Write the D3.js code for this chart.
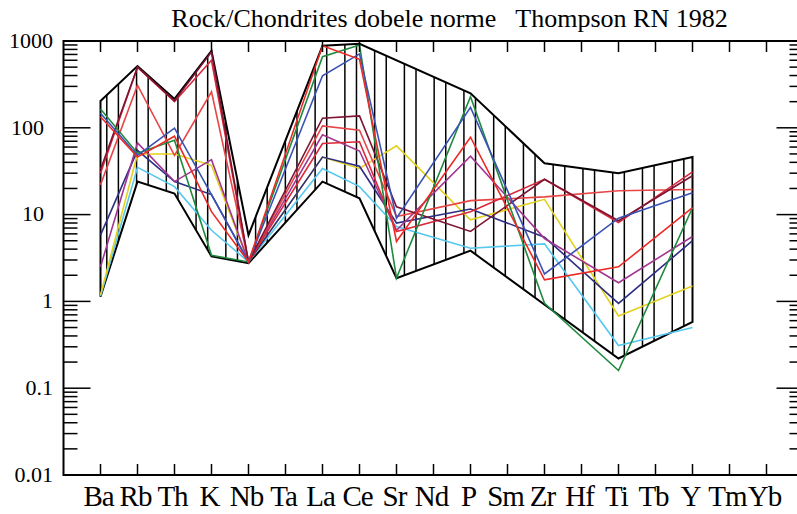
<!DOCTYPE html>
<html>
<head>
<meta charset="utf-8">
<script src="https://cdn.jsdelivr.net/npm/d3@7"></script>
<style>
  body { margin: 0; background: #fff; }
  svg text { font-family: "Liberation Serif", "DejaVu Serif", serif; fill: #000; }
</style>
</head>
<body>
<div id="chart"></div>
<script>
const elements = ['Ba', 'Rb', 'Th', 'K', 'Nb', 'Ta', 'La', 'Ce', 'Sr', 'Nd', 'P', 'Sm', 'Zr', 'Hf', 'Ti', 'Tb', 'Y', 'Tm', 'Yb'];
const yTicks = [0.01, 0.1, 1, 10, 100, 1000];
const yTickLabels = ['0.01', '0.1', '1', '10', '100', '1000'];

// elements measured in each sample (Ta, Nd, Sm, Hf, Tb, Tm, Yb are skipped)
const measured = ['Ba', 'Rb', 'Th', 'K', 'Nb', 'La', 'Ce', 'Sr', 'P', 'Zr', 'Ti', 'Y'];

const greenSample  = [165, 51, 72, 3.4, 2.85, 660, 900, 1.86, 228, 0.95, 0.16, 12];
const blueSample   = [147, 48, 99, 17, 2.85, 397, 710, 9.1, 172, 2.07, 9.1, 17.9];
const redSample1   = [134, 46, 80, 10.8, 2.85, 880, 615, 4.9, 78, 1.77, 2.5, 12];
const redSample2   = [22, 310, 48, 260, 2.85, 105, 94, 9.5, 14.5, 16, 18.8, 19.5];
const redSample3   = [30, 500, 200, 600, 2.85, 66, 69, 6.4, 10.8, 25.5, 8.1, 31];
const maroonSample = [33, 500, 205, 750, 2.85, 129, 137, 12.3, 6.4, 25.5, 8.5, 28];
const purpleSample = [2.5, 67, 24, 43, 2.85, 83, 54, 6.6, 47, 5.3, 1.64, 5.6];
const navySample   = [5.8, 55, 24, 17, 2.85, 46, 36, 8, 11.6, 5.5, 0.95, 5.0];
const yellowSample = [1.19, 50, 50, 37, 2.85, 46, 34, 62, 8.7, 15, 0.68, 1.5];
const cyanSample   = [1.15, 35, 21, 6.6, 2.85, 34, 21, 7.3, 4.1, 4.6, 0.31, 0.5];

const samples = [
  { values: cyanSample, color: '#55c8f0' },
  { values: yellowSample, color: '#e2d21e' },
  { values: navySample, color: '#2e2e82' },
  { values: purpleSample, color: '#a23690' },
  { values: redSample2, color: '#e84646' },
  { values: redSample3, color: '#d8283a' },
  { values: maroonSample, color: '#7c1432' },
  { values: greenSample, color: '#1f8a3e' },
  { values: blueSample, color: '#3a52b4' },
  { values: redSample1, color: '#ec2a26' }
];

// hatched field boundaries
const upperEls  = ['Ba', 'Rb', 'Th', 'K', 'Nb', 'La', 'Ce', 'P', 'Zr', 'Ti', 'Y'];
const upperVals = [204, 515, 215, 770, 5.8, 880, 930, 250, 39, 30, 46];
const lowerEls  = ['Ba', 'Rb', 'Th', 'K', 'Nb', 'La', 'Ce', 'Sr', 'P', 'Ti', 'Y'];
const lowerVals = [1.13, 24, 17.5, 3.3, 2.75, 24, 15.4, 1.85, 3.84, 0.22, 0.58];

const width = 797, height = 514;
const x = d3.scaleLinear().domain([0, elements.length + 1]).range([63.5, 803.5]);
const y = d3.scaleLog().domain([0.01, 1000]).range([475, 41]);
const xOf = el => x(elements.indexOf(el) + 1);

const svg = d3.select('#chart').append('svg')
  .attr('width', width)
  .attr('height', height);

svg.append('text')
  .attr('x', 449.5)
  .attr('y', 27)
  .attr('text-anchor', 'middle')
  .style('font-size', '26px')
  .style('white-space', 'pre')
  .text('Rock/Chondrites dobele norme   Thompson RN 1982');

// field polygon
const fieldPts = upperEls.map((el, i) => [xOf(el), y(upperVals[i])])
  .concat(lowerEls.map((el, i) => [xOf(el), y(lowerVals[i])]).reverse());

svg.append('clipPath')
  .attr('id', 'fieldClip')
  .append('polygon')
  .attr('points', fieldPts.map(p => p.join(',')).join(' '));

const hatchStep = 29.76;
const hatchX = d3.range(x(1) + 6.3, x(17), hatchStep)
  .concat(d3.range(x(1) + 17.9, x(17), hatchStep));

svg.append('g')
  .attr('clip-path', 'url(#fieldClip)')
  .selectAll('line')
  .data(hatchX)
  .enter().append('line')
  .attr('x1', d => d).attr('x2', d => d)
  .attr('y1', y(1000)).attr('y2', y(0.01))
  .attr('stroke', '#000')
  .attr('stroke-width', 1.5);

svg.append('polygon')
  .attr('points', fieldPts.map(p => p.join(',')).join(' '))
  .attr('fill', 'none')
  .attr('stroke', '#000')
  .attr('stroke-width', 2)
  .attr('stroke-linejoin', 'miter');

// sample lines
const line = d3.line()
  .x((d, i) => xOf(measured[i]))
  .y(d => y(d));

svg.append('g')
  .selectAll('path')
  .data(samples)
  .enter().append('path')
  .attr('d', d => line(d.values))
  .attr('fill', 'none')
  .attr('stroke', d => d.color)
  .attr('stroke-width', 1.6);

// frame and ticks
svg.append('rect')
  .attr('x', x(0)).attr('y', y(1000))
  .attr('width', x(elements.length + 1) - x(0))
  .attr('height', y(0.01) - y(1000))
  .attr('fill', 'none')
  .attr('stroke', '#000')
  .attr('stroke-width', 2);

const ticks = svg.append('g').attr('stroke', '#000').attr('stroke-width', 1.5);

elements.forEach((el, i) => {
  const xi = x(i + 1);
  ticks.append('line').attr('x1', xi).attr('x2', xi).attr('y1', y(1000)).attr('y2', y(1000) + 11);
  ticks.append('line').attr('x1', xi).attr('x2', xi).attr('y1', y(0.01)).attr('y2', y(0.01) - 11);
});

const minorTicks = [];
yTicks.slice(0, -1).forEach(t => {
  for (let k = 2; k <= 9; k++) minorTicks.push(t * k);
});

yTicks.forEach(t => {
  ticks.append('line').attr('x1', x(0)).attr('x2', x(0) + 27).attr('y1', y(t)).attr('y2', y(t));
  ticks.append('line').attr('x1', x(20)).attr('x2', x(20) - 27).attr('y1', y(t)).attr('y2', y(t));
});
minorTicks.forEach(t => {
  ticks.append('line').attr('x1', x(0)).attr('x2', x(0) + 14).attr('y1', y(t)).attr('y2', y(t));
  ticks.append('line').attr('x1', x(20)).attr('x2', x(20) - 14).attr('y1', y(t)).attr('y2', y(t));
});

svg.append('g')
  .selectAll('text')
  .data(yTicks)
  .enter().append('text')
  .attr('x', (d, i) => (yTickLabels[i] === '100' || yTickLabels[i] === '10') ? 44 : 53)
  .attr('y', d => y(d) - 1)
  .attr('dy', '0.35em')
  .attr('text-anchor', 'end')
  .style('font-size', '22px')
  .text((d, i) => yTickLabels[i]);

svg.append('g')
  .selectAll('text')
  .data(elements)
  .enter().append('text')
  .attr('x', (d, i) => x(i + 1) - 2)
  .attr('y', 506)
  .attr('text-anchor', 'middle')
  .style('font-size', '29px')
  .style('letter-spacing', '-1px')
  .text(d => d);
</script>
</body>
</html>
